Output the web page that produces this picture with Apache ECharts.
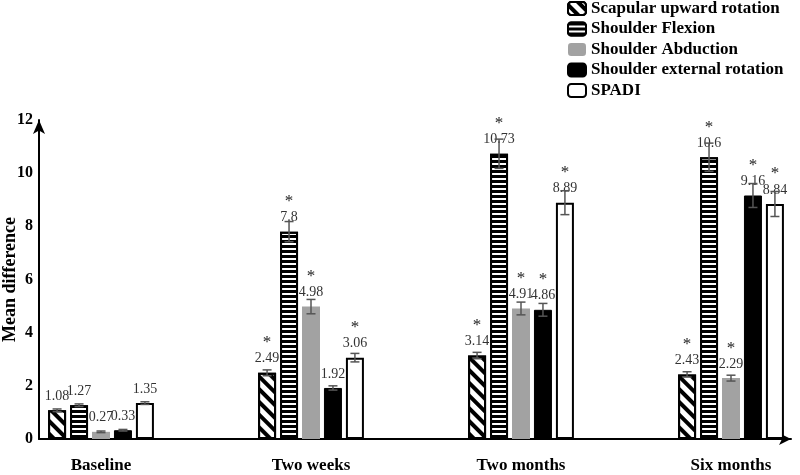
<!DOCTYPE html>
<html><head><meta charset="utf-8">
<script src="https://cdn.jsdelivr.net/npm/echarts@6/dist/echarts.min.js"></script>
<style>html,body{margin:0;padding:0;background:#fff}#c{width:800px;height:475px}</style>
</head><body><div id="c"></div>
<script>
var categories = ['Baseline', 'Two weeks', 'Two months', 'Six months'];
var seriesNames = ['Scapular upward rotation', 'Shoulder Flexion', 'Shoulder Abduction', 'Shoulder external rotation', 'SPADI'];
var scapular = [1.08, 2.49, 3.14, 2.43];
var flexion = [1.27, 7.8, 10.73, 10.6];
var abduction = [0.27, 4.98, 4.91, 2.29];
var externalRot = [0.33, 1.92, 4.86, 9.16];
var spadi = [1.35, 3.06, 8.89, 8.84];
var scapularErr = [0.05, 0.11, 0.12, 0.1];
var flexionErr = [0.05, 0.38, 0.55, 0.53];
var abductionErr = [0.03, 0.27, 0.24, 0.11];
var externalErr = [0.03, 0.08, 0.24, 0.45];
var spadiErr = [0.05, 0.16, 0.45, 0.47];
var scapularSig = [false, true, true, true];
var flexionSig = [false, true, true, true];
var abductionSig = [false, true, true, true];
var externalSig = [false, false, true, true];
var spadiSig = [false, true, true, true];
var yTicks = [0, 2, 4, 6, 8, 10, 12];

var values = [scapular, flexion, abduction, externalRot, spadi];
var errs = [scapularErr, flexionErr, abductionErr, externalErr, spadiErr];
var sigs = [scapularSig, flexionSig, abductionSig, externalSig, spadiSig];

var serif = 'Liberation Serif';
var styles = [
  {color: '#fff', borderColor: '#000', borderWidth: 2,
   decal: {symbol: 'rect', symbolSize: 1, dashArrayX: [1, 0], dashArrayY: [4, 5], rotation: Math.PI / 4, color: '#000'}},
  {color: '#fff', borderColor: '#000', borderWidth: 2,
   decal: {symbol: 'rect', symbolSize: 1, dashArrayX: [1, 0], dashArrayY: [3, 2], rotation: 0, color: '#000'}},
  {color: '#a2a2a2', borderColor: '#a2a2a2', borderWidth: 0},
  {color: '#000', borderColor: '#000', borderWidth: 1},
  {color: '#fff', borderColor: '#000', borderWidth: 2}
];

var BW = 18, GAP = 0.22;
var series = [];
values.forEach(function (vals, si) {
  series.push({
    name: seriesNames[si], type: 'bar', xAxisIndex: 1, yAxisIndex: 1,
    barWidth: BW, barGap: (GAP * 100) + '%',
    itemStyle: styles[si],
    data: vals,
    label: {
      show: true, position: 'top', distance: 6,
      formatter: function (p) {
        var s = sigs[p.seriesIndex][p.dataIndex];
        return (s ? '{s|*}\n' : '') + '{v|' + p.value + '}';
      },
      rich: {
        s: {fontFamily: serif, fontSize: 17, color: '#222', lineHeight: 16, align: 'center'},
        v: {fontFamily: serif, fontSize: 14, color: '#333', lineHeight: 16, align: 'center'}
      }
    },
    z: 2
  });
});

// error bars
var errData = [];
values.forEach(function (vals, si) {
  vals.forEach(function (v, ci) { errData.push([ci, v, errs[si][ci], si]); });
});
series.push({
  type: 'custom', xAxisIndex: 1, yAxisIndex: 1, z: 3, silent: true,
  data: errData,
  renderItem: function (params, api) {
    var ci = api.value(0), v = api.value(1), e = api.value(2), si = api.value(3);
    var pitch = BW * (1 + GAP);
    var off = (si - 2) * pitch;
    var top = api.coord([ci, v + e]);
    var bot = api.coord([ci, v - e]);
    var x = top[0] + off;
    var cap = 4.5;
    var st = {stroke: '#555', lineWidth: 1.5};
    return {type: 'group', children: [
      {type: 'line', shape: {x1: x, y1: top[1], x2: x, y2: bot[1]}, style: st},
      {type: 'line', shape: {x1: x - cap, y1: top[1], x2: x + cap, y2: top[1]}, style: st},
      {type: 'line', shape: {x1: x - cap, y1: bot[1], x2: x + cap, y2: bot[1]}, style: st}
    ]};
  }
});

var chart = echarts.init(document.getElementById('c'));
chart.setOption({
  backgroundColor: '#fff',
  animation: false,
  legend: {
    orient: 'vertical', left: 567, top: 0, padding: 0, itemWidth: 18, itemHeight: 13, itemGap: 3.5,
    data: seriesNames,
    textStyle: {fontFamily: serif, fontWeight: 'bold', fontSize: 17, color: '#000'}
  },
  grid: [
    {left: 39, right: 9, top: 120, bottom: 36, outerBoundsMode: 'none', containLabel: false},
    {left: -4, width: 840, top: 120, bottom: 36, outerBoundsMode: 'none', containLabel: false}
  ],
  xAxis: [
    {type: 'value', gridIndex: 0, min: 0, max: 1, axisLabel: {show: false}, axisTick: {show: false}, splitLine: {show: false},
     axisLine: {show: true, lineStyle: {color: '#000', width: 2}, symbol: ['none', 'arrow'], symbolSize: [9, 12]}},
    {type: 'category', gridIndex: 1, data: categories, axisLine: {show: false}, axisTick: {show: false},
     axisLabel: {margin: 18, fontFamily: serif, fontWeight: 'bold', fontSize: 17, color: '#000'}}
  ],
  yAxis: [
    {type: 'value', gridIndex: 0, min: yTicks[0], max: yTicks[yTicks.length - 1], interval: 2,
     name: 'Mean difference', nameLocation: 'middle', nameGap: 20, nameMoveOverlap: false,
     nameTextStyle: {fontFamily: serif, fontWeight: 'bold', fontSize: 18, color: '#000'},
     axisLine: {show: true, lineStyle: {color: '#000', width: 2}, symbol: ['none', 'arrow'], symbolSize: [9, 14]},
     axisTick: {show: false}, splitLine: {show: false},
     axisLabel: {margin: 6, fontFamily: serif, fontWeight: 'bold', fontSize: 16, color: '#000'}},
    {type: 'value', gridIndex: 1, min: yTicks[0], max: yTicks[yTicks.length - 1], show: false}
  ],
  series: series
});
</script></body></html>
